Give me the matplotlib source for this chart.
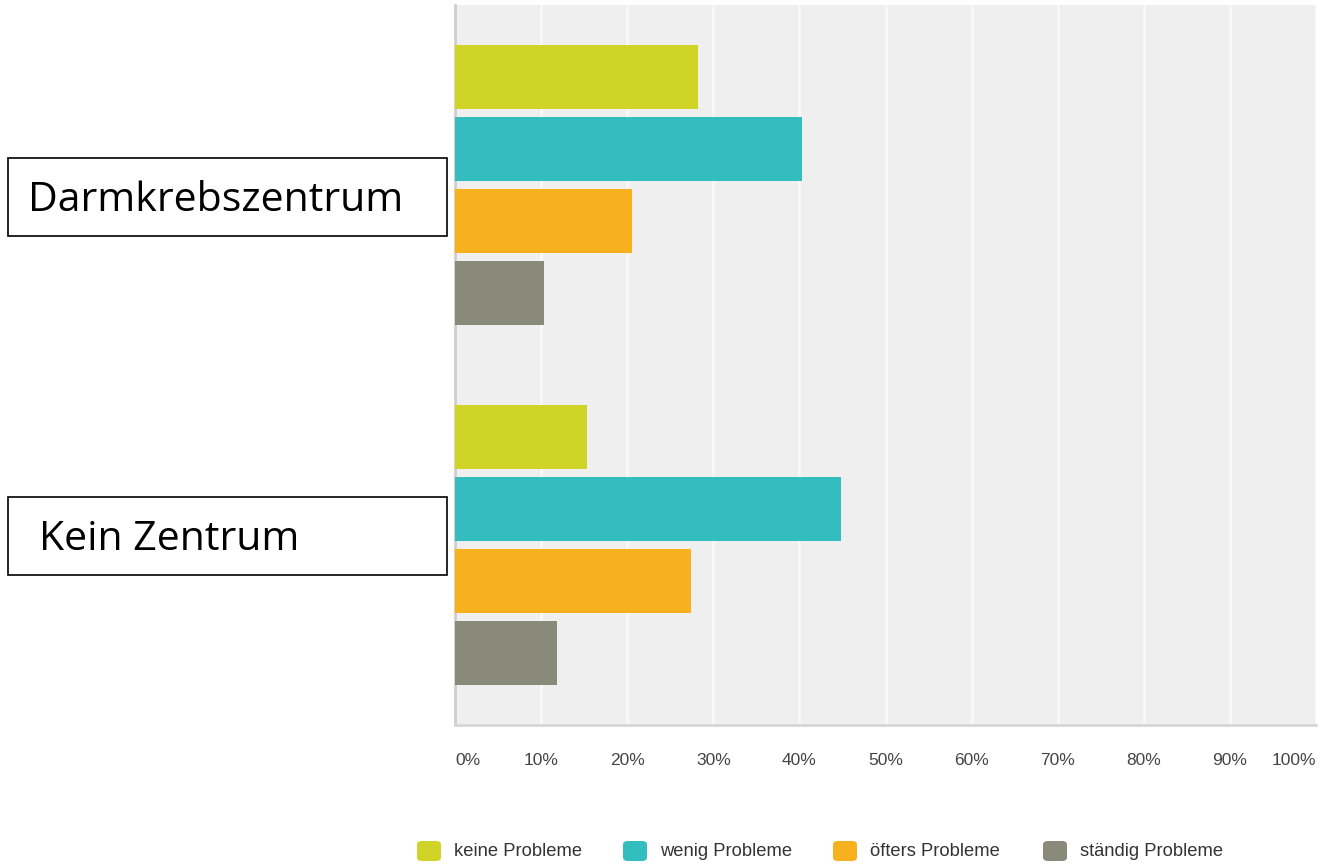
import matplotlib
matplotlib.use("Agg")
import matplotlib.pyplot as plt
from matplotlib.patches import FancyBboxPatch, Rectangle
import numpy as np

# Data (percent)
groups = ["Darmkrebszentrum", "Kein Zentrum"]
series = ["keine Probleme", "wenig Probleme", "öfters Probleme", "ständig Probleme"]
values_darm = [28.2, 40.3, 20.6, 10.3]
values_kein = [15.3, 44.8, 27.4, 11.9]
colors = ["#d0d426", "#33bdbf", "#f7b01e", "#898a79"]
tick_labels = ["0%", "10%", "20%", "30%", "40%", "50%", "60%", "70%", "80%", "90%", "100%"]

W, H = 1321, 864
fig = plt.figure(figsize=(W / 100, H / 100), dpi=100)
ax = fig.add_axes([455 / W, 1 - 725 / H, (1316 - 455) / W, (725 - 5) / H])
ax.set_facecolor("#efefef")

# bar positions: group 1 at 1..4, group 2 at 6..9
for gi, vals in enumerate([values_darm, values_kein]):
    for si, v in enumerate(vals):
        y = 1 + gi * 5 + si
        ax.barh(y, v, height=0.88, color=colors[si], zorder=3)

ax.set_xlim(0, 100)
ax.set_ylim(10, 0)
ax.set_xticks(np.arange(0, 101, 10))
ax.set_xticklabels(tick_labels)
ax.set_yticks([])
for x in np.arange(10, 101, 10):
    ax.axvline(x, color="#f9f9f9", lw=2, zorder=1)
ax.tick_params(axis="x", length=0, pad=20, labelsize=12.5, labelcolor="#444444")
for lab in ax.get_xticklabels():
    lab.set_fontfamily("Liberation Sans")
labs = ax.get_xticklabels()
labs[0].set_horizontalalignment("left")
labs[-1].set_horizontalalignment("right")

for s in ["top", "right"]:
    ax.spines[s].set_visible(False)
ax.spines["left"].set_color("#cfcfcf")
ax.spines["left"].set_linewidth(2)
ax.spines["bottom"].set_color("#d6d6d6")
ax.spines["bottom"].set_linewidth(2)

# group label boxes
boxes = [(8, 158, 447, 236, 28), (8, 497, 447, 575, 39)]
for (x0, y0, x1, y1, tx), name in zip(boxes, groups):
    fig.patches.append(Rectangle((x0 / W, 1 - y1 / H), (x1 - x0) / W, (y1 - y0) / H,
                                 transform=fig.transFigure, facecolor="white",
                                 edgecolor="black", lw=1.2))
    fig.text(tx / W, 1 - ((y0 + y1) / 2 + 4) / H, name, fontsize=29.5, family="Open Sans",
             va="center", ha="left", color="black")

# legend
leg_x = [417, 623, 833, 1043]
for lx, name, c in zip(leg_x, series, colors):
    fig.patches.append(FancyBboxPatch((lx / W, 1 - 861 / H), 24 / W, 20 / H,
                                      boxstyle="round,pad=0,rounding_size=0.004",
                                      transform=fig.transFigure, facecolor=c,
                                      edgecolor="none"))
    fig.text((lx + 37) / W, 1 - 851 / H, name, fontsize=13.2, family="Liberation Sans",
             va="center", ha="left", color="#333333")

fig.savefig("out.png", dpi=100)
